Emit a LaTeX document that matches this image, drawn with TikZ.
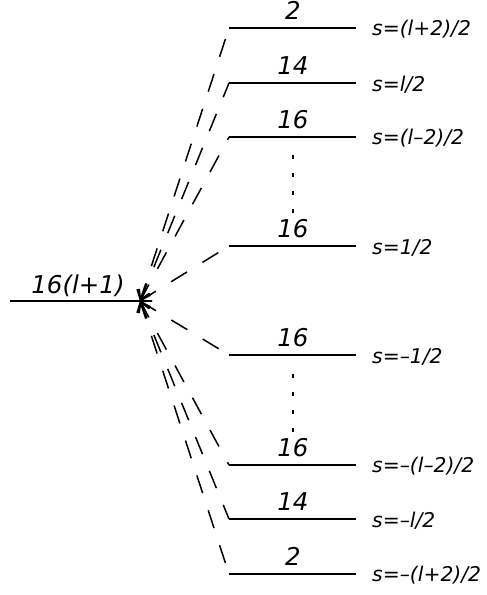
\documentclass[tikz,border=0pt]{standalone}
\usepackage{fontspec}
\setmainfont{DejaVu Sans}
\usetikzlibrary{arrows.meta}
\begin{document}
\begin{tikzpicture}[x=1pt,y=-1pt,
  level/.style={line width=1.5pt},
  trans/.style={line width=1.5pt, dash pattern=on 18.7pt off 18pt, dash phase=2.1pt,
    {Straight Barb[length=9pt,width=13pt,line width=1.5pt]}-},
  vdots/.style={line width=1.5pt, dash pattern=on 4pt off 14pt},
  count/.style={font=\fontsize{24.5}{24.5}\selectfont\itshape, anchor=base, inner sep=0pt},
  slab/.style={font=\fontsize{20.3}{20.3}\selectfont\itshape, anchor=west, inner sep=0pt},
]
\useasboundingbox (0,0) rectangle (487,595);
% initial level
\coordinate (A) at (10,301);
\coordinate (T) at (140,301);
\draw[level] (A) -- (T);
\node[count] (N0) at (78,293) {16(l+1)};
% levels
\foreach \i/\y/\c/\s in {1/28/2/{s=(l+2)/2}, 2/83/14/{s=l/2}, 3/137/16/{s=(l–2)/2}, 4/246/16/{s=1/2},
  5/355/16/{s=–1/2}, 6/465/16/{s=–(l–2)/2}, 7/519/14/{s=–l/2}, 8/574/2/{s=–(l+2)/2}}{
  \coordinate (L\i) at (229,\y);
  \coordinate (R\i) at (356,\y);
  \draw[level] (L\i) -- (R\i);
  \node[count] (C\i) at (293,\y-8.5) {\c};
  \node[slab] (S\i) at (372,\y+1.5) {\s};
  \draw[trans] (T) -- (L\i);
}
\coordinate (D1) at (293,155);
\coordinate (D2) at (293,215);
\coordinate (D3) at (293,374);
\coordinate (D4) at (293,434);
\draw[vdots] (D1) -- (D2);
\draw[vdots] (D3) -- (D4);
\end{tikzpicture}
\end{document}
